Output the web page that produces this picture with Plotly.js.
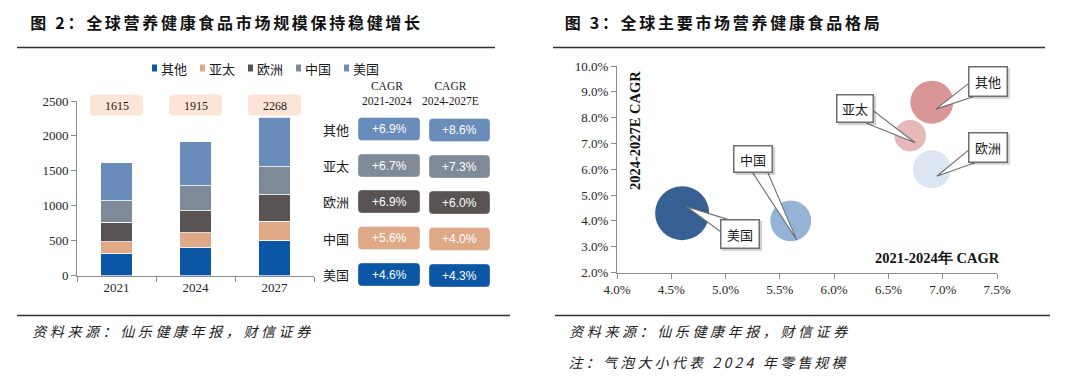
<!DOCTYPE html>
<html><head><meta charset="utf-8">
<script src="https://cdn.plot.ly/plotly-3.0.1.min.js"></script>
<style>
html,body{margin:0;padding:0;background:#fff;}
#chart{width:1080px;height:385px;}
g.annotation[data-index="0"] text, g.annotation[data-index="1"] text{letter-spacing:2.7px;}
g.annotation[data-index="2"] text, g.annotation[data-index="3"] text{letter-spacing:3.6px;}
g.annotation[data-index="4"] text{letter-spacing:3.2px;}
</style></head><body><div id="chart"></div>
<script>
// ---------------- data ----------------
const years = ['2021', '2024', '2027'];
const seriesNames = ['其他', '亚太', '欧洲', '中国', '美国'];
const otherVals  = [310, 400, 505];
const apacVals   = [175, 215, 275];
const europeVals = [275, 310, 380];
const chinaVals  = [310, 360, 400];
const usaVals    = [545, 630, 708];
const totals     = [1615, 1915, 2268];

const tableRegions = ['其他', '亚太', '欧洲', '中国', '美国'];
const cagr2124 = [6.9, 6.7, 6.9, 5.6, 4.6];
const cagr2427 = [8.6, 7.3, 6.0, 4.0, 4.3];
const cagrHeaders = ['CAGR<br>2021-2024', 'CAGR<br>2024-2027E'];

const yTicksLeft  = [0, 500, 1000, 1500, 2000, 2500];
const xTicksRight = [4.0, 4.5, 5.0, 5.5, 6.0, 6.5, 7.0, 7.5];
const yTicksRight = [2, 3, 4, 5, 6, 7, 8, 9, 10];

const titleLeft  = '图 2：全球营养健康食品市场规模保持稳健增长';
const titleRight = '图 3：全球主要市场营养健康食品格局';
const sourceText = '资料来源：仙乐健康年报，财信证券';
const noteText   = '注：气泡大小代表 2024 年零售规模';
const xTitleRight = '2021-2024年 CAGR';
const yTitleRight = '2024-2027E CAGR';

// ---------------- styles ----------------
const W = 1080, H = 385;
const valsByRegion = {'其他': otherVals, '亚太': apacVals, '欧洲': europeVals, '中国': chinaVals, '美国': usaVals};
const barColors   = {'其他': '#0c56a6', '亚太': '#dfa987', '欧洲': '#595353', '中国': '#7f8a98', '美国': '#6a8cba'};
const tableColors = {'其他': '#6a8cba', '亚太': '#7f8a98', '欧洲': '#595353', '中国': '#dfa987', '美国': '#0c56a6'};
const bubbleColors = {'美国': '#376092', '中国': '#95b3d7', '欧洲': '#dce6f2', '亚太': '#e6b9b8', '其他': '#d99694'};
const SERIF = 'Liberation Serif';
const CJK = 'Noto Sans CJK SC';
const SANS = 'Liberation Sans';
const axisGray = '#8c8c8c';
const txt = '#1a1a1a';

const px = x => x / W;
const py = y => 1 - y / H;
function P(x, y) { return px(x).toFixed(5) + ',' + py(y).toFixed(5); }
function rr(x0, y0, x1, y1, r) {
  return 'M ' + P(x0 + r, y0) + ' L ' + P(x1 - r, y0) + ' Q ' + P(x1, y0) + ' ' + P(x1, y0 + r) +
    ' L ' + P(x1, y1 - r) + ' Q ' + P(x1, y1) + ' ' + P(x1 - r, y1) +
    ' L ' + P(x0 + r, y1) + ' Q ' + P(x0, y1) + ' ' + P(x0, y1 - r) +
    ' L ' + P(x0, y0 + r) + ' Q ' + P(x0, y0) + ' ' + P(x0 + r, y0) + ' Z';
}

// left plot area (px)
const L = {x0: 77, x1: 314, y0: 101, y1: 275.5};
// right plot area (px)
const R = {x0: 617, x1: 997, y0: 66, y1: 272.5, xr: [4, 7.5], yr: [2, 10]};
const rX = v => R.x0 + (v - R.xr[0]) / (R.xr[1] - R.xr[0]) * (R.x1 - R.x0);
const rY = v => R.y1 - (v - R.yr[0]) / (R.yr[1] - R.yr[0]) * (R.y1 - R.y0);

// ---------------- traces ----------------
const traces = seriesNames.map(name => ({
  type: 'bar', name: name, x: years, y: valsByRegion[name],
  marker: {color: barColors[name], line: {color: '#ffffff', width: 0.8}},
  xaxis: 'x', yaxis: 'y', hoverinfo: 'none'
}));

// bubbles: size = 2024 retail scale, drawn largest first
const bub = tableRegions.map((r, i) => ({r: r, x: cagr2124[i], y: cagr2427[i], s: valsByRegion[r][1]}))
  .sort((a, b) => b.s - a.s);
const maxS = Math.max(...bub.map(b => b.s));
traces.push({
  type: 'scatter', mode: 'markers', xaxis: 'x2', yaxis: 'y2',
  x: bub.map(b => b.x), y: bub.map(b => b.y),
  marker: {size: bub.map(b => b.s), sizemode: 'area', sizeref: 2 * maxS / (54 * 54),
           color: bub.map(b => bubbleColors[b.r]), line: {width: 0}, opacity: 1},
  hoverinfo: 'none', cliponaxis: false
});

// ---------------- annotations & shapes ----------------
const ann = [];
const shapes = [];
// titles & sources (indices 0..4 used by CSS letter spacing; x compensates the added spacing)
function spaced(text, xLeft, ls) { return px(xLeft + ls * text.length / 2); }
ann.push({text: titleLeft, x: spaced(titleLeft, 28, 2.7), y: py(22), xanchor: 'left', yanchor: 'middle', font: {family: CJK, size: 16, color: '#111', weight: 'bold'}});
ann.push({text: titleRight, x: spaced(titleRight, 563, 2.7), y: py(22), xanchor: 'left', yanchor: 'middle', font: {family: CJK, size: 16, color: '#111', weight: 'bold'}});
ann.push({text: sourceText, x: spaced(sourceText, 30, 3.6), y: py(331), xanchor: 'left', yanchor: 'middle', font: {family: CJK, size: 14, color: '#222', style: 'italic'}});
ann.push({text: sourceText, x: spaced(sourceText, 567, 3.6), y: py(331), xanchor: 'left', yanchor: 'middle', font: {family: CJK, size: 14, color: '#222', style: 'italic'}});
ann.push({text: noteText, x: spaced(noteText, 567, 3.2), y: py(362), xanchor: 'left', yanchor: 'middle', font: {family: CJK, size: 14, color: '#222', style: 'italic'}});

// divider lines
[[17, 495, 47.5], [553, 1045, 47.5], [17, 510, 315.5], [555, 1050, 315.5]].forEach(l => {
  shapes.push({type: 'line', xref: 'paper', yref: 'paper', x0: px(l[0]), x1: px(l[1]), y0: py(l[2]), y1: py(l[2]),
               line: {color: '#333333', width: 1.6}});
});

// custom legend
seriesNames.forEach((name, i) => {
  const x = 152 + i * 48;
  shapes.push({type: 'rect', xref: 'paper', yref: 'paper', x0: px(x), x1: px(x + 5), y0: py(71.5), y1: py(64.5),
               fillcolor: barColors[name], line: {width: 0}});
  ann.push({text: name, x: px(x + 7), y: py(68.5), xanchor: 'left', yanchor: 'middle', font: {family: CJK, size: 13, color: txt}});
});

// total labels
const band = (L.x1 - L.x0) / years.length;
years.forEach((yr, i) => {
  const cx = L.x0 + (i + 0.5) * band;
  shapes.push({type: 'path', xref: 'paper', yref: 'paper', path: rr(cx - 26.5, 94.5, cx + 26.5, 115.5, 4),
               fillcolor: '#fce4d6', line: {width: 0}, layer: 'below'});
  ann.push({text: String(totals[i]), x: px(cx), y: py(105.5), xanchor: 'center', yanchor: 'middle',
            font: {family: SERIF, size: 12, color: txt}});
});

// CAGR table
const colX = [[358, 420], [429, 490]];
const headX = [387, 450];
const rowY = [129, 165.5, 201.5, 238, 274.5];
cagrHeaders.forEach((h, c) => {
  ann.push({text: h, x: px(headX[c]), y: py(93.5), xanchor: 'center', yanchor: 'middle',
            font: {family: SERIF, size: 11.5, color: txt}});
});
tableRegions.forEach((r, i) => {
  ann.push({text: r, x: px(336), y: py(rowY[i]), xanchor: 'center', yanchor: 'middle', font: {family: CJK, size: 13, color: txt}});
  [cagr2124, cagr2427].forEach((arr, c) => {
    const yc = rowY[i] + c * 1;
    shapes.push({type: 'path', xref: 'paper', yref: 'paper', path: rr(colX[c][0], yc - 11.5, colX[c][1], yc + 11.5, 4),
                 fillcolor: tableColors[r], line: {color: 'rgba(255,255,255,0.35)', width: 1}});
    ann.push({text: '+' + arr[i].toFixed(1) + '%', x: px((colX[c][0] + colX[c][1]) / 2), y: py(yc), xanchor: 'center', yanchor: 'middle',
              font: {family: SANS, size: 12, color: '#ffffff'}});
  });
});

// right chart axis titles
ann.push({text: yTitleRight, x: px(635), y: py(130), xanchor: 'center', yanchor: 'middle', textangle: -90,
          font: {family: SERIF, size: 14.5, color: '#111', weight: 'bold'}});
ann.push({text: xTitleRight, x: px(1002), y: py(258), xanchor: 'right', yanchor: 'middle',
          font: {family: SERIF, size: 14.5, color: '#111', weight: 'bold'}});

// callouts (box offset & tip offset in px relative to bubble centre)
const callout = {
  '其他': {bx: 56, by: -21, w: 40, h: 31, tx: 4, ty: 7},
  '亚太': {bx: -55, by: -27, w: 38, h: 29, tx: 5, ty: 7},
  '欧洲': {bx: 56, by: -22, w: 40, h: 31, tx: 5, ty: 7},
  '中国': {bx: -37.5, by: -62, w: 40, h: 28, tx: 6, ty: 19},
  '美国': {bx: 58, by: 20.5, w: 40, h: 30, tx: 4.6, ty: -6.4}
};
tableRegions.forEach((r, i) => {
  const c = callout[r];
  const cx = rX(cagr2124[i]), cy = rY(cagr2427[i]);
  const Bx = cx + c.bx, By = cy + c.by, Tx = cx + c.tx, Ty = cy + c.ty;
  const dx = Tx - Bx, dy = Ty - By, len = Math.hypot(dx, dy);
  const t = Math.min((c.w / 2) / Math.abs(dx || 1e-6), (c.h / 2) / Math.abs(dy || 1e-6));
  const ex = Bx + dx * t - dx / len * 4, ey = By + dy * t - dy / len * 4;
  const nx = -dy / len, ny = dx / len, hw = 7;
  shapes.push({type: 'path', xref: 'paper', yref: 'paper',
               path: 'M ' + P(ex + nx * hw, ey + ny * hw) + ' L ' + P(Tx, Ty) + ' L ' + P(ex - nx * hw, ey - ny * hw) + ' Z',
               fillcolor: '#ffffff', line: {color: '#6e6e6e', width: 1.1}, layer: 'above'});
  shapes.push({type: 'rect', xref: 'paper', yref: 'paper', x0: px(Bx - c.w / 2 + 2), x1: px(Bx + c.w / 2 + 2),
               y0: py(By + c.h / 2 + 2), y1: py(By - c.h / 2 + 2), fillcolor: 'rgba(0,0,0,0.18)', line: {width: 0}, layer: 'above'});
  ann.push({text: r, x: px(Bx), y: py(By), xanchor: 'center', yanchor: 'middle', width: c.w - 5, height: c.h - 5,
            bgcolor: '#ffffff', bordercolor: '#6e6e6e', borderwidth: 1.5, borderpad: 1,
            font: {family: CJK, size: 13, color: txt}});
});

ann.forEach(a => { a.showarrow = false; if (!a.xref) a.xref = 'paper'; if (!a.yref) a.yref = 'paper'; });

const tickFont = {family: SERIF, size: 13, color: '#262626'};
const pct = v => v.toFixed(1) + '%';
const layout = {
  width: W, height: H, margin: {l: 0, r: 0, t: 0, b: 0},
  paper_bgcolor: '#ffffff', plot_bgcolor: 'rgba(0,0,0,0)',
  showlegend: false, barmode: 'stack', bargap: 0.6,
  xaxis: {domain: [px(L.x0), px(L.x1)], anchor: 'y', type: 'category', categoryorder: 'array', categoryarray: years,
          range: [-0.5, years.length - 0.5], autorange: false, showline: true, linecolor: axisGray, linewidth: 1,
          ticks: 'outside', tickson: 'boundaries', ticklen: 5, tickcolor: axisGray, tickfont: tickFont, tickangle: 0,
          showgrid: false, zeroline: false, fixedrange: true},
  yaxis: {domain: [py(L.y1), py(L.y0)], anchor: 'x', range: [0, 2500], autorange: false, tickvals: yTicksLeft, showline: true, linecolor: axisGray,
          linewidth: 1, ticks: 'outside', ticklen: 5, tickcolor: axisGray, tickfont: tickFont, showgrid: false, zeroline: false, fixedrange: true},
  xaxis2: {domain: [px(R.x0), px(R.x1)], anchor: 'y2', range: R.xr, autorange: false, tickvals: xTicksRight, ticktext: xTicksRight.map(pct),
           showline: true, linecolor: axisGray, linewidth: 1, ticks: 'outside', ticklen: 5, tickcolor: axisGray, tickfont: tickFont,
           showgrid: false, zeroline: false, fixedrange: true},
  yaxis2: {domain: [py(R.y1), py(R.y0)], anchor: 'x2', range: R.yr, autorange: false, tickvals: yTicksRight, ticktext: yTicksRight.map(pct),
           showline: true, linecolor: axisGray, linewidth: 1, ticks: 'outside', ticklen: 5, tickcolor: axisGray, tickfont: tickFont,
           showgrid: false, zeroline: false, fixedrange: true},
  annotations: ann, shapes: shapes
};
Plotly.newPlot('chart', traces, layout, {staticPlot: true, displayModeBar: false});
</script></body></html>
